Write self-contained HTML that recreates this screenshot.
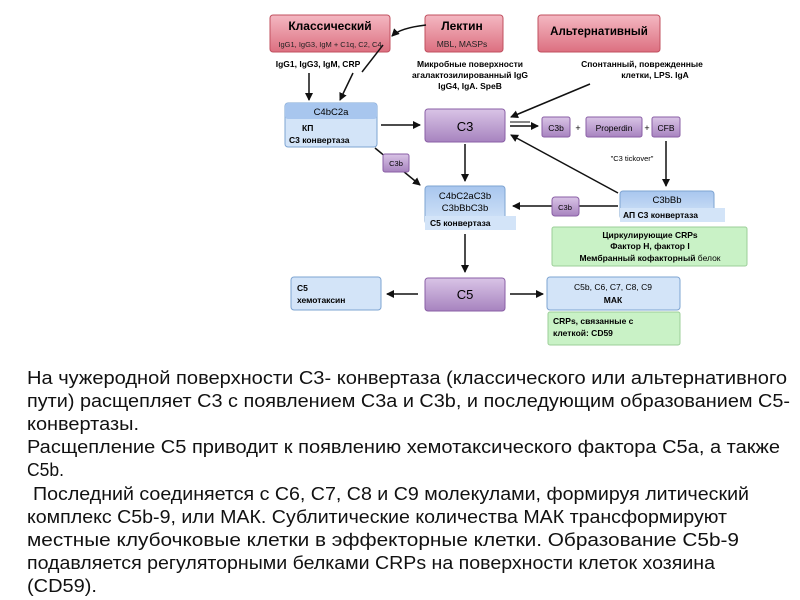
<!DOCTYPE html>
<html><head><meta charset="utf-8"><style>
html,body{margin:0;padding:0;background:#fff;}
svg{display:block}
</style></head><body>
<svg width="800" height="600" xmlns="http://www.w3.org/2000/svg" font-family="Liberation Sans, DejaVu Sans, sans-serif">
<defs>
<marker id="ah" markerWidth="8" markerHeight="8" refX="7" refY="4" orient="auto" markerUnits="userSpaceOnUse">
<path d="M0,0 L8,4 L0,8 Z" fill="#111"/></marker>
<linearGradient id="pk" x1="0" y1="0" x2="0" y2="1"><stop offset="0" stop-color="#f4b8c2"/><stop offset="1" stop-color="#dc6f80"/></linearGradient>
<linearGradient id="pu" x1="0" y1="0" x2="0" y2="1"><stop offset="0" stop-color="#d9c4e6"/><stop offset="1" stop-color="#a783bf"/></linearGradient>
<linearGradient id="bl" x1="0" y1="0" x2="0" y2="1"><stop offset="0" stop-color="#a8c6ee"/><stop offset="1" stop-color="#d3e4f8"/></linearGradient>
</defs>
<rect x="270" y="15" width="120" height="37" rx="3" fill="url(#pk)" stroke="#c0505f"/>
<text x="330" y="30" font-size="12" font-weight="bold" text-anchor="middle">Классический</text>
<text x="330" y="47" font-size="7.5" text-anchor="middle" fill="#222">IgG1, IgG3, IgM + C1q, C2, C4</text>
<rect x="425" y="15" width="78" height="37" rx="3" fill="url(#pk)" stroke="#c0505f"/>
<text x="462" y="30" font-size="12" font-weight="bold" text-anchor="middle">Лектин</text>
<text x="462" y="47" font-size="8.5" text-anchor="middle" fill="#222">MBL, MASPs</text>
<rect x="538" y="15" width="122" height="37" rx="3" fill="url(#pk)" stroke="#c0505f"/>
<text x="599" y="35" font-size="11.5" font-weight="bold" text-anchor="middle">Альтернативный</text>
<g font-size="8.5" font-weight="bold" text-anchor="middle">
<text x="318" y="67">IgG1, IgG3, IgM, CRP</text>
<text x="470" y="67">Микробные поверхности</text>
<text x="470" y="78">агалактозилированный IgG</text>
<text x="470" y="89">IgG4, IgA. SpeB</text>
<text x="642" y="67">Спонтанный, поврежденные</text>
<text x="655" y="78">клетки, LPS. IgA</text>
</g>
<path d="M426,25 Q400,28 392,36" fill="none" stroke="#111" stroke-width="1.5" marker-end="url(#ah)"/>
<line x1="383" y1="45" x2="362" y2="72" stroke="#111" stroke-width="1.5"/>
<line x1="353" y1="73" x2="340" y2="100" stroke="#111" stroke-width="1.5" marker-end="url(#ah)"/>
<line x1="309" y1="73" x2="309" y2="100" stroke="#111" stroke-width="1.5" marker-end="url(#ah)"/>
<line x1="590" y1="84" x2="511" y2="117" stroke="#111" stroke-width="1.5" marker-end="url(#ah)"/>
<rect x="285" y="103" width="92" height="44" rx="3" fill="#d3e4f8" stroke="#7ea4d2"/>
<rect x="285" y="103" width="92" height="16" rx="3" fill="#a8c6ee"/>
<text x="331" y="115" font-size="9.5" text-anchor="middle">C4bC2a</text>
<text x="302" y="131" font-size="8.5" font-weight="bold">КП</text>
<text x="289" y="143" font-size="8.5" font-weight="bold">С3 конвертаза</text>
<line x1="381" y1="125" x2="420" y2="125" stroke="#111" stroke-width="1.5" marker-end="url(#ah)"/>
<rect x="425" y="109" width="80" height="33" rx="3" fill="url(#pu)" stroke="#8a5fa6"/>
<text x="465" y="131" font-size="13" text-anchor="middle">C3</text>
<line x1="510" y1="126" x2="538" y2="126" stroke="#111" stroke-width="1.5" marker-end="url(#ah)"/>
<line x1="510" y1="122" x2="530" y2="122" stroke="#111" stroke-width="1"/>
<rect x="542" y="117" width="28" height="20" rx="2" fill="url(#pu)" stroke="#8a5fa6"/>
<text x="556" y="131" font-size="8.5" text-anchor="middle">C3b</text>
<text x="578" y="131" font-size="9" text-anchor="middle">+</text>
<rect x="586" y="117" width="56" height="20" rx="2" fill="url(#pu)" stroke="#8a5fa6"/>
<text x="614" y="131" font-size="8.5" text-anchor="middle">Properdin</text>
<text x="647" y="131" font-size="9" text-anchor="middle">+</text>
<rect x="652" y="117" width="28" height="20" rx="2" fill="url(#pu)" stroke="#8a5fa6"/>
<text x="666" y="131" font-size="8.5" text-anchor="middle">CFB</text>
<text x="632" y="161" font-size="7.5" text-anchor="middle">"C3 tickover"</text>
<line x1="666" y1="141" x2="666" y2="186" stroke="#111" stroke-width="1.5" marker-end="url(#ah)"/>
<line x1="618" y1="193" x2="511" y2="135" stroke="#111" stroke-width="1.5" marker-end="url(#ah)"/>
<line x1="375" y1="148" x2="420" y2="185" stroke="#111" stroke-width="1.5" marker-end="url(#ah)"/>
<rect x="383" y="154" width="26" height="18" rx="2" fill="url(#pu)" stroke="#8a5fa6"/>
<text x="396" y="166" font-size="7.5" text-anchor="middle">C3b</text>
<line x1="465" y1="144" x2="465" y2="181" stroke="#111" stroke-width="1.5" marker-end="url(#ah)"/>
<rect x="425" y="186" width="80" height="38" rx="3" fill="url(#bl)" stroke="#7ea4d2"/>
<text x="465" y="199" font-size="9.5" text-anchor="middle">C4bC2aC3b</text>
<text x="465" y="211" font-size="9.5" text-anchor="middle">C3bBbC3b</text>
<rect x="425" y="216" width="91" height="14" fill="#d3e4f8"/>
<text x="430" y="226" font-size="8.5" font-weight="bold">С5 конвертаза</text>
<rect x="620" y="191" width="94" height="28" rx="3" fill="url(#bl)" stroke="#7ea4d2"/>
<text x="667" y="203" font-size="9.5" text-anchor="middle">C3bBb</text>
<rect x="620" y="208" width="105" height="14" fill="#d3e4f8"/>
<text x="623" y="218" font-size="8.5" font-weight="bold">АП С3 конвертаза</text>
<line x1="618" y1="206" x2="513" y2="206" stroke="#111" stroke-width="1.5" marker-end="url(#ah)"/>
<rect x="552" y="197" width="27" height="19" rx="3" fill="url(#pu)" stroke="#8a5fa6"/>
<text x="565" y="210" font-size="7.5" text-anchor="middle">C3b</text>
<rect x="552" y="227" width="195" height="39" rx="2" fill="#c9f2c6" stroke="#9ccf98"/>
<g font-size="8.5" font-weight="bold" text-anchor="middle">
<text x="650" y="238">Циркулирующие CRPs</text>
<text x="650" y="249">Фактор H, фактор I</text>
<text x="650" y="261">Мембранный кофакторный <tspan font-weight="normal">белок</tspan></text>
</g>
<line x1="465" y1="234" x2="465" y2="272" stroke="#111" stroke-width="1.5" marker-end="url(#ah)"/>
<rect x="425" y="278" width="80" height="33" rx="3" fill="url(#pu)" stroke="#8a5fa6"/>
<text x="465" y="299" font-size="13" text-anchor="middle">C5</text>
<line x1="418" y1="294" x2="387" y2="294" stroke="#111" stroke-width="1.5" marker-end="url(#ah)"/>
<line x1="510" y1="294" x2="543" y2="294" stroke="#111" stroke-width="1.5" marker-end="url(#ah)"/>
<rect x="291" y="277" width="90" height="33" rx="3" fill="#d3e4f8" stroke="#7ea4d2"/>
<text x="297" y="291" font-size="8.5" font-weight="bold">С5</text>
<text x="297" y="303" font-size="8.5" font-weight="bold">хемотаксин</text>
<rect x="547" y="277" width="133" height="33" rx="3" fill="#d3e4f8" stroke="#7ea4d2"/>
<text x="613" y="290" font-size="8.5" text-anchor="middle">C5b, C6, C7, C8, C9</text>
<text x="613" y="303" font-size="8.5" font-weight="bold" text-anchor="middle">МАК</text>
<rect x="548" y="312" width="132" height="33" rx="2" fill="#c9f2c6" stroke="#9ccf98"/>
<text x="553" y="324" font-size="8.5" font-weight="bold">CRPs, связанные с</text>
<text x="553" y="336" font-size="8.5" font-weight="bold">клеткой: CD59</text>
<g font-size="18" fill="#111">
<text x="27" y="384" textLength="760" lengthAdjust="spacingAndGlyphs">На чужеродной поверхности С3- конвертаза (классического или альтернативного</text>
<text x="27" y="407" textLength="763" lengthAdjust="spacingAndGlyphs">пути) расщепляет С3 с появлением С3а и  С3b, и последующим образованием С5-</text>
<text x="27" y="430" textLength="112" lengthAdjust="spacingAndGlyphs">конвертазы.</text>
<text x="27" y="453" textLength="753" lengthAdjust="spacingAndGlyphs">Расщепление С5 приводит к появлению хемотаксического фактора С5а, а также</text>
<text x="27" y="476" textLength="37" lengthAdjust="spacingAndGlyphs">С5b.</text>
<text x="33" y="500" textLength="716" lengthAdjust="spacingAndGlyphs">Последний соединяется с С6, С7, С8 и С9 молекулами, формируя литический</text>
<text x="27" y="523" textLength="700" lengthAdjust="spacingAndGlyphs">комплекс С5b-9, или  МАК. Сублитические количества МАК трансформируют</text>
<text x="27" y="546" textLength="712" lengthAdjust="spacingAndGlyphs">местные клубочковые клетки в эффекторные клетки. Образование С5b-9</text>
<text x="27" y="569" textLength="688" lengthAdjust="spacingAndGlyphs">подавляется  регуляторными белками CRPs на поверхности клеток хозяина</text>
<text x="27" y="592" textLength="70" lengthAdjust="spacingAndGlyphs">(CD59).</text>
</g>
</svg>
</body></html>
